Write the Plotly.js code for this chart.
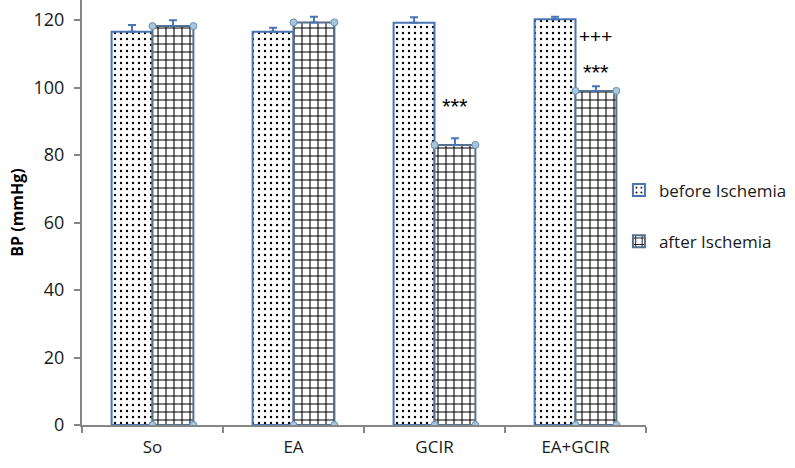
<!DOCTYPE html>
<html><head><meta charset="utf-8">
<script src="https://cdn.plot.ly/plotly-3.0.1.min.js"></script>
<style>html,body{margin:0;padding:0;background:#fff}#chart{width:795px;height:468px}</style>
</head><body><div id="chart"></div>
<script>
const categories = ["So", "EA", "GCIR", "EA+GCIR"];
const beforeValues = [116.5, 116.5, 119.2, 120.2];
const beforeErrors = [2.0, 1.2, 1.6, 0.8];
const afterValues = [118.2, 119.3, 83.0, 99.0];
const afterErrors = [1.7, 1.7, 2.0, 1.4];
const seriesNames = ["before Ischemia", "after Ischemia"];
const sigLabels = [
  {cat: 2, text: "***", y: 94.5, size: 22},
  {cat: 3, text: "***", y: 104.5, size: 22},
  {cat: 3, text: "+++", y: 115.0, size: 19}
];

const bargap = 0.42;
const barW = (1 - bargap) / 2;
const zeros = categories.map(() => 0);

const before = {
  type: "bar", name: seriesNames[0], x: categories, y: beforeValues,
  legendgroup: "a",
  marker: {color: "#ffffff", line: {color: "#4a74b2", width: 2},
    pattern: {shape: ".", size: 6, solidity: 0.12, fgcolor: "#000000", bgcolor: "#ffffff", fillmode: "replace"}},
  error_y: {type: "data", array: beforeErrors, arrayminus: zeros, symmetric: false, color: "#4a74b2", thickness: 2, width: 4}
};
const after = {
  type: "bar", name: seriesNames[1], x: categories, y: afterValues,
  legendgroup: "b",
  marker: {color: "#ffffff", line: {color: "#56708f", width: 2},
    pattern: {shape: "+", size: 8, solidity: 0.25, fgcolor: "#000000", bgcolor: "#ffffff", fillmode: "replace"}},
  error_y: {type: "data", array: afterErrors, arrayminus: zeros, symmetric: false, color: "#4a74b2", thickness: 2, width: 4}
};

// corner handle markers on the "after" bars, derived from data
const hx = [], hy = [];
afterValues.forEach((v, i) => {
  [i, i + barW].forEach(px => { hx.push(px, px); hy.push(v, 0); });
});
const handles = {
  type: "scatter", mode: "markers", x: hx, y: hy, xaxis: "x2", showlegend: false, hoverinfo: "skip",
  marker: {size: 7, color: "#a8c6de", line: {color: "#6a8fb3", width: 1}}
};

const annotations = sigLabels.map(s => ({
  xref: "x2", yref: "y", x: s.cat + barW / 2, y: s.y, text: s.text, showarrow: false,
  font: {family: "Liberation Sans, Arial, sans-serif", size: s.size, color: "#000"}
}));

const font = "Open Sans, Noto Sans, sans-serif";
const layout = {
  width: 795, height: 468,
  margin: {l: 82, r: 149, t: 0, b: 43, pad: 0},
  paper_bgcolor: "#fff", plot_bgcolor: "#fff",
  barmode: "group", bargap: bargap, bargroupgap: 0,
  font: {family: font, size: 17, color: "#1a1a1a"},
  xaxis: {type: "category", range: [-0.5, 3.5], tickson: "boundaries", ticks: "outside", ticklen: 6,
    tickcolor: "#868686", tickwidth: 2, showline: true, linecolor: "#868686", linewidth: 2,
    showgrid: false, zeroline: false, tickfont: {size: 17}, ticklabelstandoff: 6},
  xaxis2: {overlaying: "x", range: [-0.5, 3.5], visible: false},
  yaxis: {range: [0, 125.93], tickvals: [0, 20, 40, 60, 80, 100, 120], ticks: "outside", ticklen: 6,
    tickcolor: "#868686", tickwidth: 2, showline: true, linecolor: "#868686", linewidth: 2,
    showgrid: false, zeroline: false, tickfont: {size: 18}, ticklabelstandoff: 6,
    title: {text: "BP (mmHg)", font: {size: 16, weight: "bold", color: "#000"}, standoff: 6}},
  legend: {x: 0.952, y: 0.594, xanchor: "left", yanchor: "top", traceorder: "grouped", tracegroupgap: 26,
    font: {size: 17}, itemwidth: 30, bgcolor: "rgba(0,0,0,0)"},
  annotations: annotations
};

Plotly.newPlot("chart", [before, after, handles], layout, {displayModeBar: false});
</script></body></html>
